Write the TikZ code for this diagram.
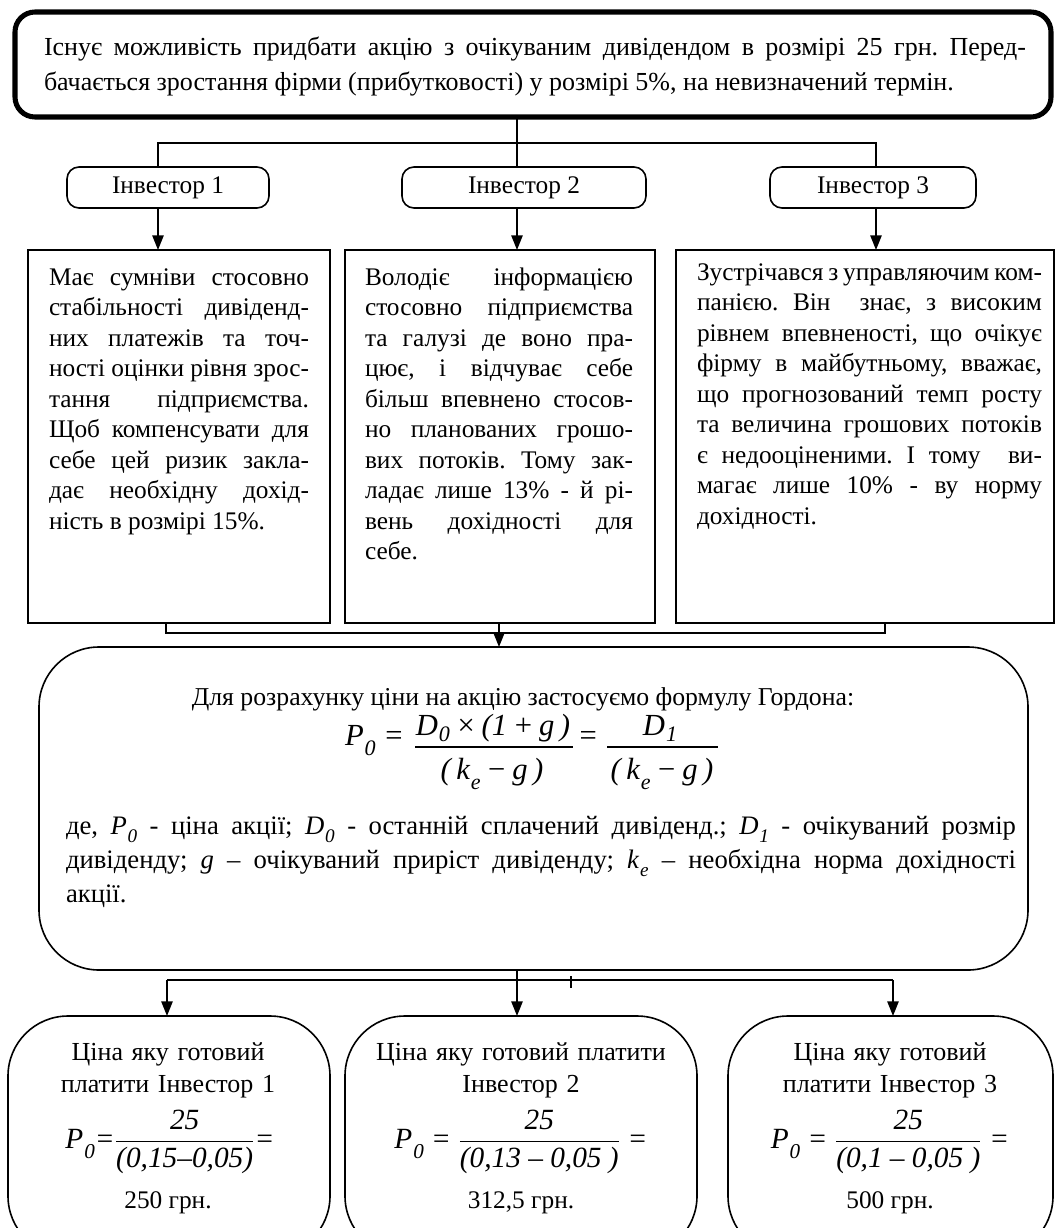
\documentclass[tikz,border=0pt]{standalone}
\usepackage{fontspec}
\setmainfont{Liberation Serif}
\usetikzlibrary{arrows.meta}
\hyphenpenalty=10000
\tolerance=10000
\frenchspacing
\newcommand\isub[2]{\textit{#1}\kern0.03em\raisebox{-0.33em}{\scalebox{0.72}{\itshape #2}}}
\newcommand\nsub[2]{\textit{#1}\kern0.03em\raisebox{-0.22em}{\scalebox{0.72}{\itshape #2}}}
\newcommand\gs{\hspace{0.18em}}
\newcommand\ifrac[2]{$\displaystyle{\mbox{#1}\above 0.9pt\mbox{#2}}$}
\begin{document}
\begin{tikzpicture}[x=0.75pt,y=-0.75pt,
  every node/.style={inner sep=0pt,outer sep=0pt},
  sz/.style 2 args={minimum width={#1*0.75pt},minimum height={#2*0.75pt}},
  conn/.style={line width=1.2pt},
  arr/.style={conn,-{Triangle[length=11pt,width=8.5pt]}},
  thickbox/.style={draw,line width=3.8pt,rounded corners=15pt},
  invbox/.style={draw,line width=1.2pt,rounded corners=9pt,font=\fontsize{19pt}{22.9pt}\selectfont},
  plainbox/.style={draw,line width=1.2pt},
  bigbox/.style={draw,line width=1.2pt,rounded corners=45pt},
  txt/.style={font=\fontsize{19pt}{22.9pt}\selectfont},
  jtxt/.style={txt,align=justify},
  ctxt/.style={font=\fontsize{19.5pt}{24pt}\selectfont,align=center,text width={340*0.75pt}},
  fml/.style={font=\fontsize{22pt}{22pt}\selectfont\itshape},
  gfml/.style={font=\fontsize{23pt}{23pt}\selectfont\itshape},
  fbar/.style={line width=1pt},
]
\useasboundingbox (0,0) rectangle (1055,1228);
\clip (0,0) rectangle (1055,1228);

% boxes
\node[thickbox,sz={1036}{105},anchor=north west] (top) at (15,12) {};
\node[invbox,sz={202}{41},anchor=north west] (inv1) at (67,167) {Інвестор 1};
\node[invbox,sz={244}{41},anchor=north west] (inv2) at (402,167) {Інвестор 2};
\node[invbox,sz={206}{41},anchor=north west] (inv3) at (770,167) {Інвестор 3};
\node[plainbox,sz={302}{373},anchor=north west] (t1) at (28,250) {};
\node[plainbox,sz={310}{373},anchor=north west] (t2) at (345,250) {};
\node[plainbox,sz={378}{373},anchor=north west] (t3) at (676,250) {};
\node[bigbox,sz={989}{323},anchor=north west] (form) at (39,647) {};
\node[bigbox,sz={322}{240},anchor=north west] (b1) at (8,1016) {};
\node[bigbox,sz={352}{240},anchor=north west] (b2) at (345,1016) {};
\node[bigbox,sz={325}{240},anchor=north west] (b3) at (728,1016) {};

% texts
\node[jtxt,font=\fontsize{19.5pt}{26.25pt}\selectfont,text width={982*0.75pt},anchor=base west] (toptext) at (44,55)
 {Існує можливість придбати акцію з очікуваним дивідендом в розмірі 25 грн. Перед-\linebreak бачається зростання фірми (прибутковості) у розмірі 5\%, на невизначений термін.};
\node[jtxt,text width={260*0.75pt},anchor=base west] (t1text) at (49,285)
 {Має сумніви стосовно\linebreak стабільності дивіденд-\linebreak них платежів та точ-\linebreak ності оцінки рівня зрос-\linebreak тання підприємства.\linebreak Щоб компенсувати для\linebreak себе цей ризик закла-\linebreak дає необхідну дохід-\linebreak ність в розмірі 15\%.};
\node[jtxt,text width={268*0.75pt},anchor=base west] (t2text) at (365,285)
 {Володіє інформацією\linebreak стосовно підприємства\linebreak та галузі де воно пра-\linebreak цює, і відчуває себе\linebreak більш впевнено стосов-\linebreak но планованих грошо-\linebreak вих потоків. Тому зак-\linebreak ладає лише 13\% - й рі-\linebreak вень дохідності для\linebreak себе.};
\node[jtxt,text width={345*0.75pt},anchor=base west] (t3text) at (697,280)
 {Зустрічався з управляючим ком-\linebreak панією. Він\ \ знає, з високим\linebreak рівнем впевненості, що очікує\linebreak фірму в майбутньому, вважає,\linebreak що прогнозований темп росту\linebreak та величина грошових потоків\linebreak є недооціненими. І тому\ \ ви-\linebreak магає лише 10\% - ву норму\linebreak дохідності.};

\node[txt,font=\fontsize{19.3pt}{22.9pt}\selectfont,anchor=base] (fhead) at (523,705) {Для розрахунку ціни на акцію застосуємо формулу Гордона:};
% Gordon formula
\node[gfml,anchor=base west] (gP) at (345,745) {\isub{P}{0} =};
\node[gfml,anchor=base] (gN1) at (493,735) {\nsub{D}{0}\gs×\gs(1\gs+\gs g\gs)};
\node[gfml,anchor=base] (gD1) at (492,779) {(\gs\isub{k}{e}\gs−\gs g\gs)};
\node[gfml,anchor=base] (gEq) at (588,745) {=};
\node[gfml,anchor=base] (gN2) at (660,735) {\nsub{D}{1}};
\node[gfml,anchor=base] (gD2) at (662,779) {(\gs\isub{k}{e}\gs−\gs g\gs)};
\coordinate (gb1a) at (415,747); \coordinate (gb1b) at (573,747);
\coordinate (gb2a) at (607,747); \coordinate (gb2b) at (718,747);
\draw[fbar] (gb1a) -- (gb1b);
\draw[fbar] (gb2a) -- (gb2b);

\node[jtxt,font=\fontsize{20pt}{25.5pt}\selectfont,text width={950*0.75pt},anchor=base west] (fdesc) at (66,834)
 {де, \isub{P}{0} - ціна акції; \isub{D}{0} - останній сплачений дивіденд.; \isub{D}{1} - очікуваний розмір\linebreak дивіденду; \textit{g} – очікуваний приріст дивіденду; \isub{k}{e} – необхідна норма дохідності\linebreak акції.};

\node[ctxt,anchor=base] (b1text) at (168,1060) {Ціна яку готовий\\платити Інвестор 1};
\node[fml] (b1f) at (170,1142) {\isub{P}{0}=\ifrac{25}{(0,15–0,05)}=};
\node[txt,anchor=base] (b1p) at (168,1208) {250 грн.};
\node[ctxt,anchor=base] (b2text) at (521,1060) {Ціна яку готовий платити\\Інвестор 2};
\node[fml] (b2f) at (521,1142) {\isub{P}{0} = \ifrac{25}{(0,13 – 0,05 )} =};
\node[txt,anchor=base] (b2p) at (521,1208) {312,5 грн.};
\node[ctxt,anchor=base] (b3text) at (890,1060) {Ціна яку готовий\\платити Інвестор 3};
\node[fml] (b3f) at (890,1142) {\isub{P}{0} = \ifrac{25}{(0,1 – 0,05 )} =};
\node[txt,anchor=base] (b3p) at (890,1208) {500 грн.};

% connectors
\coordinate (x1) at (158,0); \coordinate (x2) at (517,0); \coordinate (x3) at (876,0);
\coordinate (barA) at (0,143);
\draw[conn] (x2 |- top.south) -- (x2 |- inv2.north);
\draw[conn] (x1 |- inv1.north) -- (x1 |- barA) -- (x3 |- barA) -- (x3 |- inv3.north);
\draw[arr] (x1 |- inv1.south) -- (x1 |- t1.north);
\draw[arr] (x2 |- inv2.south) -- (x2 |- t2.north);
\draw[arr] (x3 |- inv3.south) -- (x3 |- t3.north);

\coordinate (y1) at (166,0); \coordinate (ym) at (499,0); \coordinate (y3) at (885,0);
\coordinate (barB) at (0,633);
\draw[conn] (y1 |- t1.south) -- (y1 |- barB) -- (y3 |- barB) -- (y3 |- t3.south);
\draw[arr] (ym |- t2.south) -- (ym |- form.north);

\coordinate (z1) at (167,0); \coordinate (z2) at (517,0); \coordinate (z3) at (893,0);
\coordinate (barC) at (0,980);
\draw[arr] (z2 |- form.south) -- (z2 |- b2.north);
\draw[conn] (z1 |- barC) -- (z3 |- barC);
\draw[arr] (z1 |- barC) -- (z1 |- b1.north);
\draw[arr] (z3 |- barC) -- (z3 |- b3.north);
\coordinate (tickA) at (571,976); \coordinate (tickB) at (571,988);
\draw[line width=0.8pt] (tickA) -- (tickB);
\end{tikzpicture}
\end{document}
